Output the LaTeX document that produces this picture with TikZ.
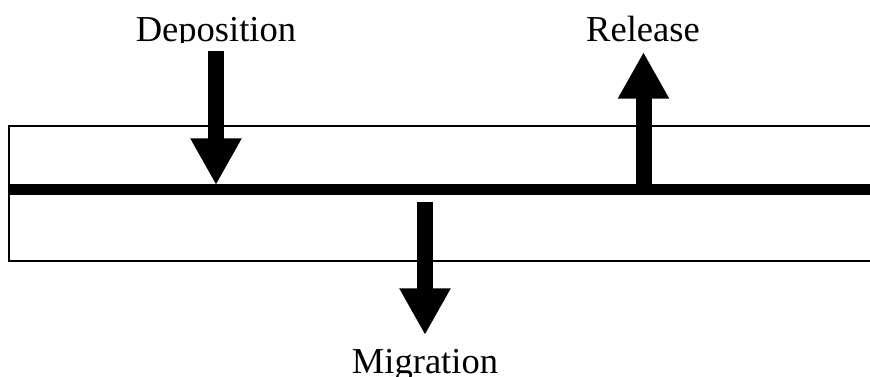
\documentclass[tikz,border=0pt]{standalone}
\usepackage{fontspec}
\setmainfont{Liberation Serif}
\usetikzlibrary{arrows.meta}
\begin{document}
\begin{tikzpicture}[x=0.75pt,y=-0.75pt,
  label/.style={inner sep=0pt,anchor=base,font=\fontsize{27.4}{30}\selectfont},
  layer/.style={line width=1.5pt},
  interface/.style={line width=8.25pt},
  flux/.style={line width=12pt,-{Triangle[length=35pt,width=36pt]}}]
  \useasboundingbox (0,0) rectangle (870,377);
  % open-ended layer box and the interface line through it
  \draw[layer] (875,126) -- (9,126) -- (9,261) -- (875,261);
  \coordinate (ifl) at (9,190);
  \coordinate (ifr) at (875,190);
  \draw[interface] (ifl) -- (ifr);
  % labels
  \begin{scope}
    \clip (0,0) rectangle (870,43);
    \node[label] (dep) at (216,42) {Deposition};
  \end{scope}
  \node[label] (rel) at (643,42) {Release};
  \node[label] (mig) at (425,373) {Migration};
  % arrow end points
  \coordinate (depS) at (216,51);
  \coordinate (depE) at (216,185);
  \coordinate (relS) at (643.5,186);
  \coordinate (relE) at (643.5,52);
  \coordinate (migS) at (425,202);
  \coordinate (migE) at (425,335);
  \draw[flux] (depS) -- (depE);
  \draw[flux] (relS) -- (relE);
  \draw[flux] (migS) -- (migE);
\end{tikzpicture}
\end{document}
